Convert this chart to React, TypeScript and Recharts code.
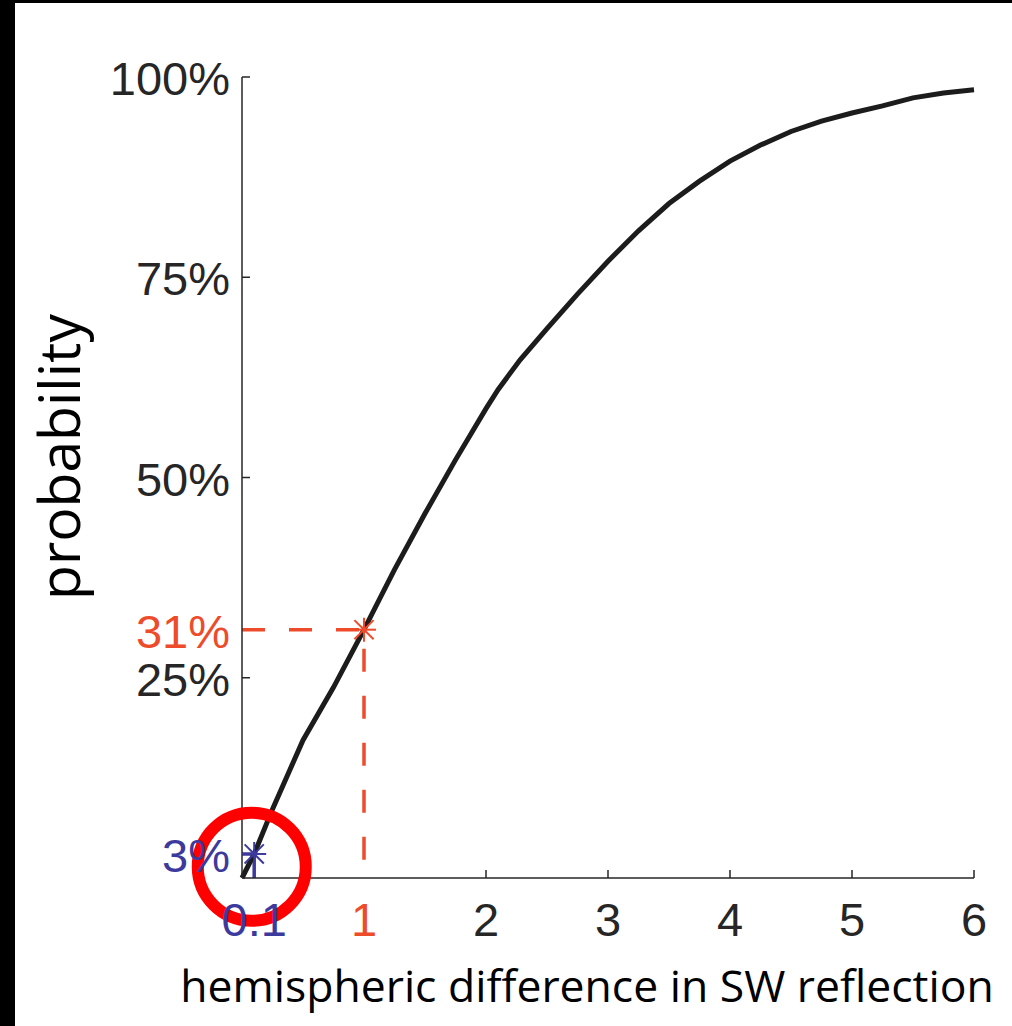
import React from "react";
import {
  ComposedChart,
  Line,
  Scatter,
  XAxis,
  YAxis,
  ReferenceDot,
} from "recharts";

// curve: hemispheric difference -> probability
const diffValues = [
  0, 0.1, 0.25, 0.5, 0.75, 1, 1.25, 1.5, 1.75, 2, 2.1, 2.28, 2.5, 2.75, 3,
  3.25, 3.5, 3.75, 4, 4.25, 4.5, 4.75, 5, 5.25, 5.5, 5.75, 6,
];
const probValues = [
  0, 0.03, 0.086, 0.172, 0.238, 0.31, 0.385, 0.455, 0.522, 0.586, 0.61,
  0.647, 0.686, 0.729, 0.77, 0.808, 0.842, 0.87, 0.895, 0.915, 0.932, 0.945,
  0.955, 0.964, 0.974, 0.98, 0.984,
];

const xTicks = [0.1, 1, 2, 3, 4, 5, 6];
const yTicks = [0.03, 0.25, 0.31, 0.5, 0.75, 1];

const redPoint = { x: 1, p: 0.31 };
const bluePoint = { x: 0.1, p: 0.03 };
const circleCenter = { x: 0.08, p: 0.014 };

const RED = "#ee4b2b";
const BLUE = "#3c3a9c";
const INK = "#262626";

const curve = diffValues.map((x, i) => ({ x, p: probValues[i] }));

const guide = (pt: { x: number; p: number }) => [
  { x: 0, p: pt.p },
  { x: pt.x, p: pt.p },
  { x: pt.x, p: 0 },
];

function tickColor(v: number, red: number, blue: number) {
  if (Math.abs(v - red) < 1e-6) return RED;
  if (Math.abs(v - blue) < 1e-6) return BLUE;
  return INK;
}

const YTick = (props: any) => {
  const { x, y, payload } = props;
  const v = payload.value;
  const color = tickColor(v, redPoint.p, bluePoint.p);
  const plain = color === INK;
  return (
    <g>
      {plain && <line x1={x} x2={x + 8} y1={y} y2={y} stroke={INK} strokeWidth={1.5} />}
      <text
        x={x - 12}
        y={y + 18}
        textAnchor="end"
        fill={color}
        fontSize={47}
        fontFamily="Liberation Sans, Arial, sans-serif"
      >
        {Math.round(v * 100)}%
      </text>
    </g>
  );
};

const XTick = (props: any) => {
  const { x, y, payload } = props;
  const v = payload.value;
  const color = tickColor(v, redPoint.x, bluePoint.x);
  const plain = color === INK;
  return (
    <g>
      {plain && <line x1={x} x2={x} y1={y} y2={y - 8} stroke={INK} strokeWidth={1.5} />}
      <text
        x={x}
        y={y + 58}
        textAnchor="middle"
        fill={color}
        fontSize={47}
        fontFamily="Liberation Sans, Arial, sans-serif"
      >
        {v}
      </text>
    </g>
  );
};

const asterisk = (color: string) => (props: any) => {
  const { cx, cy } = props;
  const r = 12;
  const d = r * 0.8;
  return (
    <g stroke={color} strokeWidth={2}>
      <line x1={cx - r} x2={cx + r} y1={cy} y2={cy} />
      <line x1={cx} x2={cx} y1={cy - r} y2={cy + r} />
      <line x1={cx - d} x2={cx + d} y1={cy - d} y2={cy + d} />
      <line x1={cx - d} x2={cx + d} y1={cy + d} y2={cy - d} />
    </g>
  );
};

export default function App() {
  return (
    <div style={{ position: "absolute", left: 0, top: 0, width: 1012, height: 1026, background: "#fff" }}>
      <div style={{ position: "absolute", left: 0, top: 0, width: 15, height: 1026, background: "#000" }} />
      <div style={{ position: "absolute", left: 0, top: 0, width: 1012, height: 3, background: "#000" }} />
      <div style={{ position: "absolute", left: 0, top: 0 }}>
        <ComposedChart
          width={1012}
          height={1026}
          data={curve}
          margin={{ top: 77, right: 38, bottom: 88, left: 142 }}
        >
          <XAxis
            type="number"
            dataKey="x"
            domain={[0, 6]}
            ticks={xTicks}
            height={60}
            tickSize={0}
            tickMargin={0}
            tick={<XTick />}
            axisLine={{ stroke: INK, strokeWidth: 1.5 }}
            interval={0}
          />
          <YAxis
            type="number"
            dataKey="p"
            domain={[0, 1]}
            ticks={yTicks}
            width={100}
            tickSize={0}
            tickMargin={0}
            tick={<YTick />}
            axisLine={{ stroke: INK, strokeWidth: 1.5 }}
            interval={0}
          />
          <Line
            data={guide(redPoint)}
            dataKey="p"
            stroke={RED}
            strokeWidth={3.5}
            strokeDasharray="23 24"
            dot={false}
            activeDot={false}
            type="linear"
            isAnimationActive={false}
          />
          <Line
            data={guide(bluePoint)}
            dataKey="p"
            stroke={BLUE}
            strokeWidth={3.5}
            dot={false}
            activeDot={false}
            type="linear"
            isAnimationActive={false}
          />
          <Line
            dataKey="p"
            stroke="#1c1c1c"
            strokeWidth={5}
            dot={false}
            activeDot={false}
            type="linear"
            isAnimationActive={false}
          />
          <Scatter data={[redPoint]} dataKey="p" shape={asterisk(RED)} isAnimationActive={false} />
          <Scatter data={[bluePoint]} dataKey="p" shape={asterisk(BLUE)} isAnimationActive={false} />
          <ReferenceDot
            x={circleCenter.x}
            y={circleCenter.p}
            r={54}
            fill="none"
            stroke="#ff0000"
            strokeWidth={12}
            ifOverflow="visible"
          />
          <text
            x={587}
            y={1002}
            textAnchor="middle"
            fontSize={44.5}
            fill="#000"
            fontFamily="Open Sans, sans-serif"
          >
            hemispheric difference in SW reflection
          </text>
          <text
            x={80}
            y={457}
            textAnchor="middle"
            fontSize={57}
            fill="#000"
            fontFamily="Open Sans, sans-serif"
            transform="rotate(-90, 80, 457)"
          >
            probability
          </text>
        </ComposedChart>
      </div>
    </div>
  );
}
